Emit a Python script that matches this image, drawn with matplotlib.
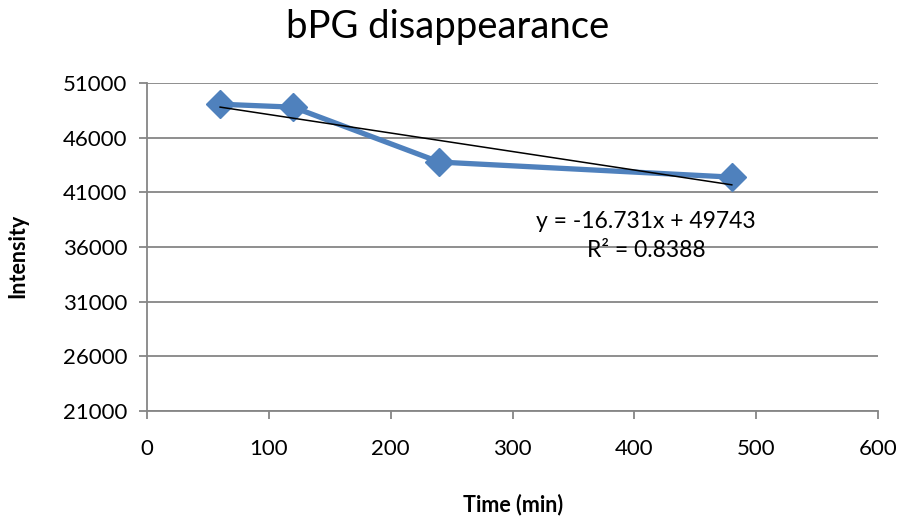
import numpy as np
import matplotlib
matplotlib.use("Agg")
import matplotlib.pyplot as plt

plt.rcParams["font.family"] = ["Lato", "DejaVu Sans"]

# data
time_min = [60, 120, 240, 480]
intensity = [49060, 48790, 43770, 42390]
fit_text = "y = -16.731x + 49743\nR² = 0.8388"

xticks = [0, 100, 200, 300, 400, 500, 600]
yticks = [21000, 26000, 31000, 36000, 41000, 46000, 51000]

fig = plt.figure(figsize=(9.03, 5.25), dpi=100)
ax = fig.add_axes([147 / 903, 1 - 411 / 525, (878 - 147) / 903, (411 - 83) / 525])

grid_c = "#868686"
ax.set_xlim(0, 600)
ax.set_ylim(21000, 51000)
ax.set_xticks(xticks)
ax.set_yticks(yticks)
ax.yaxis.grid(True, color=grid_c, lw=1.3)
ax.set_axisbelow(True)
for s in ["top", "right"]:
    ax.spines[s].set_visible(False)
for s in ["left", "bottom"]:
    ax.spines[s].set_color(grid_c)
    ax.spines[s].set_linewidth(1.3)
ax.tick_params(axis="both", colors=grid_c, length=6, width=1.3, labelsize=16,
               labelcolor="black")
ax.tick_params(axis="x", pad=14)
ax.tick_params(axis="y", pad=8)

ax.plot(time_min, intensity, color="#4F81BD", lw=3.8, marker="D", ms=14,
        zorder=3, clip_on=False)

# linear trendline
coef = np.polyfit(time_min, intensity, 1)
tx = np.array([min(time_min), max(time_min)])
ax.plot(tx, np.polyval(coef, tx), color="black", lw=1.1, zorder=4)

ax.text(646 / 903, 1 - 236 / 525, fit_text, transform=fig.transFigure,
        ha="center", va="center", fontsize=16.5, linespacing=1.45)

fig.text(448 / 903, 1 - 27 / 525, "bPG disappearance", ha="center", va="center",
         fontsize=27.5)
fig.text(513 / 903, 1 - 505 / 525, "Time (min)", ha="center", va="center",
         fontsize=15.5, fontweight="bold")
fig.text(18 / 903, 1 - 256 / 525, "Intensity", ha="center", va="center",
         fontsize=15.5, fontweight="bold", rotation=90)

fig.savefig("out.png", dpi=100)
